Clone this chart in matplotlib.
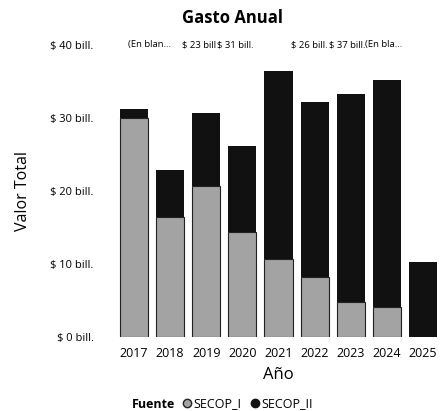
import numpy as np
import matplotlib
matplotlib.use('Agg')
import matplotlib.pyplot as plt
from matplotlib.lines import Line2D

plt.rcParams['font.family'] = ['Open Sans', 'DejaVu Sans']

# data (bill. COP)
years = ['2017', '2018', '2019', '2020', '2021', '2022', '2023', '2024', '2025']
secop_i = [30.0, 16.4, 20.7, 14.4, 10.7, 8.2, 4.8, 4.1, 0.0]
secop_ii = [1.2, 6.5, 10.0, 11.8, 25.8, 24.0, 28.5, 31.1, 10.3]
yticks = [0, 10, 20, 30, 40]

# total labels as they appear on top (shifted/truncated in the source)
top_labels = ['(En blan...', '$ 23 bill', '$ 31 bill.', '$ 26 bill.', '$ 37 bill.', '(En bla...']
top_label_pos = [0.42, 1.8, 2.8, 4.85, 5.9, 6.9]

c_i = '#a3a3a3'
c_ii = '#111111'

fig = plt.figure(figsize=(4.47, 4.11), dpi=100)
ax = fig.add_axes([116 / 447, 1 - 337 / 411, 325 / 447, 292 / 411])

x = np.arange(len(years))
ax.bar(x, secop_i, width=0.78, color=c_i, edgecolor='#222222', linewidth=0.8)
ax.bar(x, secop_ii, width=0.78, bottom=secop_i, color=c_ii)

for xp, txt in zip(top_label_pos, top_labels):
    ax.text(xp, 40, txt, ha='center', va='center', fontsize=6.8, clip_on=False)

ax.set_xlim(-0.5, len(years) - 0.5)
ax.set_ylim(0, 40)
ax.set_yticks(yticks)
ax.set_yticklabels([f'$ {v} bill.' for v in yticks], fontsize=8)
ax.set_xticks(x)
ax.set_xticklabels(years, fontsize=9)
ax.tick_params(length=0, pad=7)
ax.tick_params(axis='y', pad=16)
for s in ax.spines.values():
    s.set_visible(False)

ax.set_xlabel('Año', fontsize=12, labelpad=5)
ax.set_ylabel('Valor Total', fontsize=11.5)
ax.yaxis.set_label_coords(-0.26, 0.5)
fig.text(233 / 447, 1 - 18 / 411, 'Gasto Anual', fontsize=12, fontweight='bold',
         ha='center', va='center')

fig.text(132 / 447, 1 - 404 / 411, 'Fuente', fontsize=9, fontweight='bold', va='center')
handles = [Line2D([], [], marker='o', ls='', color=c_i, markeredgecolor='#222222', markersize=6),
           Line2D([], [], marker='o', ls='', color=c_ii, markersize=6)]
fig.legend(handles, ['SECOP_I', 'SECOP_II'], loc='center left',
           bbox_to_anchor=(181 / 447, 1 - 404 / 411), ncol=2, frameon=False,
           fontsize=9, handletextpad=0.0, columnspacing=0.6, handlelength=1.0,
           borderaxespad=0, borderpad=0)

fig.savefig('out.png', dpi=100)
